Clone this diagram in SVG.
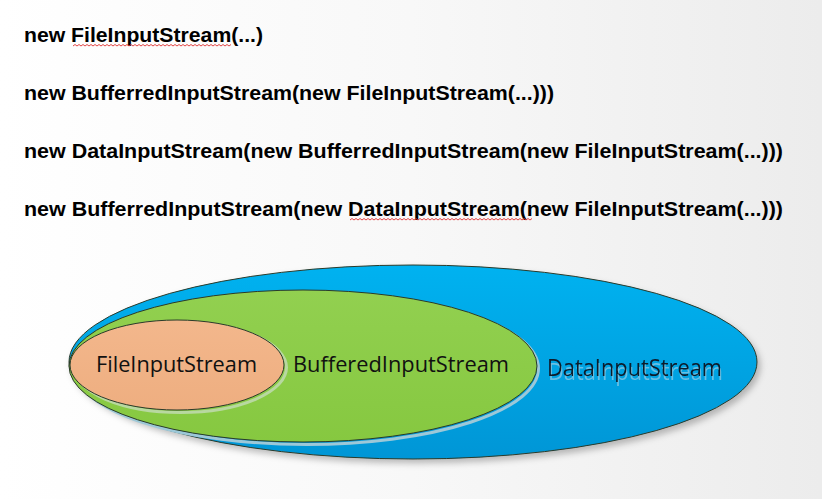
<svg xmlns="http://www.w3.org/2000/svg" width="822" height="499" viewBox="0 0 822 499">
<defs>
<linearGradient id="bg" x1="0" y1="0" x2="1" y2="0">
<stop offset="0" stop-color="#ffffff"/>
<stop offset="0.5" stop-color="#f8f8f8"/>
<stop offset="1" stop-color="#ececec"/>
</linearGradient>
<linearGradient id="gBlue" x1="0" y1="0" x2="0" y2="1">
<stop offset="0" stop-color="#00b2f0"/>
<stop offset="1" stop-color="#0096d6"/>
</linearGradient>
<linearGradient id="gGreen" x1="0" y1="0" x2="0" y2="1">
<stop offset="0" stop-color="#92d050"/>
<stop offset="1" stop-color="#86c840"/>
</linearGradient>
<linearGradient id="gOrange" x1="0" y1="0" x2="0" y2="1">
<stop offset="0" stop-color="#f3b78c"/>
<stop offset="1" stop-color="#eeae80"/>
</linearGradient>
<filter id="sh" x="-10%" y="-20%" width="120%" height="150%">
<feDropShadow dx="3" dy="4" stdDeviation="3" flood-color="#000" flood-opacity="0.25"/>
</filter>
<filter id="tsh" x="-5%" y="-30%" width="110%" height="180%">
<feOffset in="SourceAlpha" dx="1" dy="4" result="o"/>
<feGaussianBlur in="o" stdDeviation="0.6" result="b"/>
<feFlood flood-color="#7cc4e4" flood-opacity="0.85"/>
<feComposite in2="b" operator="in" result="s"/>
<feMerge><feMergeNode in="s"/><feMergeNode in="SourceGraphic"/></feMerge>
</filter>
</defs>
<style>
.code{font-family:"Liberation Sans",Arial,sans-serif;font-weight:bold;font-size:21px;fill:#000}
.lbl{font-family:"Open Sans","Noto Sans",sans-serif;font-size:21px;fill:#111}
.el{stroke:#2a3a2a;stroke-width:1}
.sq{fill:none;stroke:#e03030;stroke-width:0.9}
</style>
<rect width="822" height="499" fill="url(#bg)"/>

<g id="code-lines">
<text class="code" x="24" y="42" textLength="239" lengthAdjust="spacingAndGlyphs">new FileInputStream(...)</text>
<text class="code" x="24" y="100" textLength="530" lengthAdjust="spacingAndGlyphs">new BufferredInputStream(new FileInputStream(...)))</text>
<text class="code" x="24" y="158" textLength="759" lengthAdjust="spacingAndGlyphs">new DataInputStream(new BufferredInputStream(new FileInputStream(...)))</text>
<text class="code" x="24" y="216" textLength="759" lengthAdjust="spacingAndGlyphs">new BufferredInputStream(new DataInputStream(new FileInputStream(...)))</text>
<path class="sq" d="M73,46 l2,-1.5 l2,1.5 l2,-1.5 l2,1.5 l2,-1.5 l2,1.5 l2,-1.5 l2,1.5 l2,-1.5 l2,1.5 l2,-1.5 l2,1.5 l2,-1.5 l2,1.5 l2,-1.5 l2,1.5 l2,-1.5 l2,1.5 l2,-1.5 l2,1.5 l2,-1.5 l2,1.5 l2,-1.5 l2,1.5 l2,-1.5 l2,1.5 l2,-1.5 l2,1.5 l2,-1.5 l2,1.5 l2,-1.5 l2,1.5 l2,-1.5 l2,1.5 l2,-1.5 l2,1.5 l2,-1.5 l2,1.5 l2,-1.5 l2,1.5 l2,-1.5 l2,1.5 l2,-1.5 l2,1.5 l2,-1.5 l2,1.5 l2,-1.5 l2,1.5 l2,-1.5 l2,1.5 l2,-1.5 l2,1.5 l2,-1.5 l2,1.5 l2,-1.5 l2,1.5 l2,-1.5 l2,1.5 l2,-1.5 l2,1.5 l2,-1.5 l2,1.5 l2,-1.5 l2,1.5 l2,-1.5 l2,1.5 l2,-1.5 l2,1.5 l2,-1.5 l2,1.5 l2,-1.5 l2,1.5 l2,-1.5 l2,1.5 l2,-1.5 l2,1.5 l2,-1.5 l2,1.5 l2,-1.5"/>
<path class="sq" d="M350,220 l2,-1.5 l2,1.5 l2,-1.5 l2,1.5 l2,-1.5 l2,1.5 l2,-1.5 l2,1.5 l2,-1.5 l2,1.5 l2,-1.5 l2,1.5 l2,-1.5 l2,1.5 l2,-1.5 l2,1.5 l2,-1.5 l2,1.5 l2,-1.5 l2,1.5 l2,-1.5 l2,1.5 l2,-1.5 l2,1.5 l2,-1.5 l2,1.5 l2,-1.5 l2,1.5 l2,-1.5 l2,1.5 l2,-1.5 l2,1.5 l2,-1.5 l2,1.5 l2,-1.5 l2,1.5 l2,-1.5 l2,1.5 l2,-1.5 l2,1.5 l2,-1.5 l2,1.5 l2,-1.5 l2,1.5 l2,-1.5 l2,1.5 l2,-1.5 l2,1.5 l2,-1.5 l2,1.5 l2,-1.5 l2,1.5 l2,-1.5 l2,1.5 l2,-1.5 l2,1.5 l2,-1.5 l2,1.5 l2,-1.5 l2,1.5 l2,-1.5 l2,1.5 l2,-1.5 l2,1.5 l2,-1.5 l2,1.5 l2,-1.5 l2,1.5 l2,-1.5 l2,1.5 l2,-1.5 l2,1.5 l2,-1.5 l2,1.5 l2,-1.5 l2,1.5 l2,-1.5 l2,1.5 l2,-1.5 l2,1.5 l2,-1.5 l2,1.5 l2,-1.5 l2,1.5 l2,-1.5 l2,1.5 l2,-1.5 l2,1.5 l2,-1.5 l2,1.5 l2,-1.5"/>
</g>

<g id="DataInputStream">
<ellipse class="el" cx="413" cy="362" rx="344" ry="97" fill="url(#gBlue)" filter="url(#sh)"/>
<text class="lbl" x="547" y="376" textLength="175" lengthAdjust="spacingAndGlyphs" filter="url(#tsh)" style="font-size:23px;fill:#0a1a2a">DataInputStream</text>
</g>

<g id="BufferedInputStream">
<ellipse cx="305" cy="367" rx="232" ry="76" fill="none" stroke="#9cc8d8" stroke-width="3" transform="translate(1.5,1.5)"/>
<ellipse class="el" cx="303" cy="366" rx="234" ry="76" fill="url(#gGreen)"/>
<text class="lbl" x="293" y="372" textLength="216" lengthAdjust="spacingAndGlyphs">BufferedInputStream</text>
</g>

<g id="FileInputStream">
<ellipse cx="179" cy="366" rx="106" ry="45" fill="none" stroke="#b8d8a0" stroke-width="3" transform="translate(1.5,1.5)"/>
<ellipse class="el" cx="177" cy="365" rx="107" ry="45" fill="url(#gOrange)"/>
<text class="lbl" x="96" y="372" textLength="161" lengthAdjust="spacingAndGlyphs">FileInputStream</text>
</g>
</svg>
